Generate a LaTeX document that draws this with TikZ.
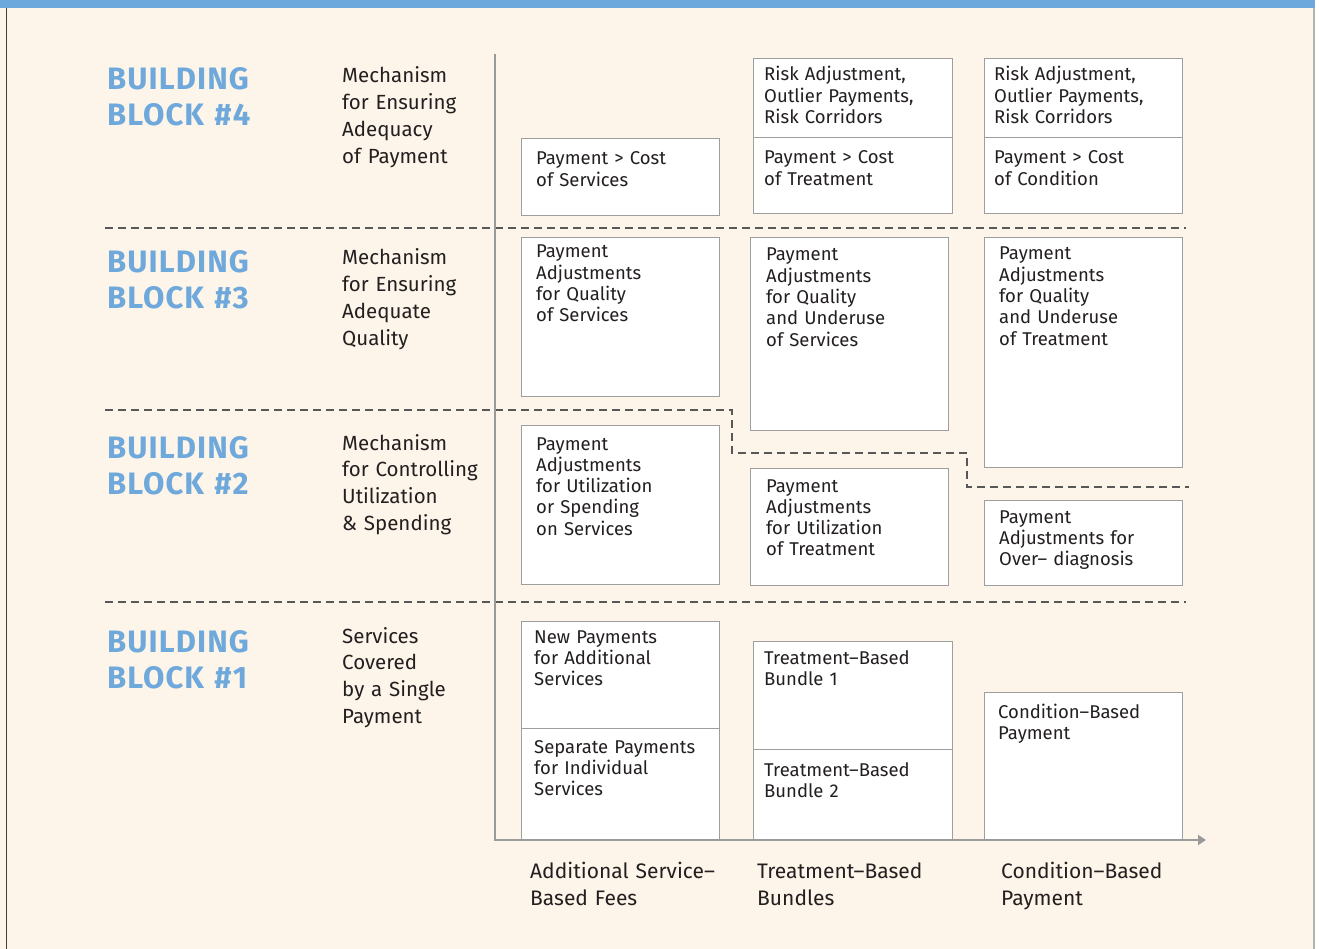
\documentclass[tikz,border=0pt]{standalone}
\usepackage{fontspec}
\setmainfont{Fira Sans}
\newfontfamily\headfont[LetterSpace=3.5]{Fira Sans}
\usetikzlibrary{arrows.meta}
\definecolor{bg}{HTML}{FDF5E9}
\definecolor{barblue}{HTML}{6CA8DC}
\definecolor{headblue}{HTML}{6FA9DC}
\definecolor{dashgray}{HTML}{585858}
\definecolor{axisgray}{HTML}{9A9A9A}
\definecolor{boxgray}{HTML}{9E9E9E}
\definecolor{ink}{HTML}{231F20}
\tikzset{
  cell/.style 2 args={draw=boxgray, fill=white, line width=1.4pt, anchor=north west, inner sep=0pt, minimum width=#1pt, minimum height=#2pt},
  celltext/.style={anchor=base west, inner sep=0pt, text width=185pt, align=left, font=\fontsize{18.5}{21.3}\selectfont, text=ink},
  desc/.style={anchor=base west, inner sep=0pt, text width=160pt, align=left, font=\fontsize{20.5}{26.8}\selectfont, text=ink},
  axlabel/.style={anchor=base west, inner sep=0pt, text width=210pt, align=left, font=\fontsize{21}{27}\selectfont, text=ink},
  head/.style={anchor=base west, inner sep=0pt, text width=220pt, align=left, font=\headfont\fontsize{31}{36}\selectfont\bfseries, text=headblue},
  sepline/.style={draw=dashgray, line width=2.9pt, dash pattern=on 8pt off 5pt},
  axisline/.style={draw=axisgray, line width=2.7pt},
}
\begin{document}
\begin{tikzpicture}[x=1pt,y=-1pt]
\useasboundingbox (0,0) rectangle (1319,949);
% background and frame
\fill[white] (0,0) rectangle (1319,949);
\fill[bg] (0,0) rectangle (1315,949);
\fill[barblue] (0,0) rectangle (1315,8.3);
\draw[draw=black!75, line width=1.6pt] (6.5,8.3) -- (6.5,949);
\draw[draw=black!30, line width=1.3pt] (1314,8.3) -- (1314,949);

% separators
\coordinate (s4a) at (105,228);
\coordinate (s4b) at (1186,228);
\coordinate (s3a) at (105,410);
\coordinate (s3b) at (732,410);
\coordinate (s3c) at (732,453);
\coordinate (s3d) at (967,453);
\coordinate (s3e) at (967,487);
\coordinate (s3f) at (1189,487);
\coordinate (s2a) at (105,602);
\coordinate (s2b) at (1186,602);
\draw[sepline] (s4a) -- (s4b);
\draw[sepline] (s3a) -- (s3b) -- (s3c) -- (s3d) -- (s3e) -- (s3f);
\draw[sepline] (s2a) -- (s2b);

% headings
\node[head] (h4) at (107,90) {BUILDING\\BLOCK \#4};
\node[head] (h3) at (107,273) {BUILDING\\BLOCK \#3};
\node[head] (h2) at (107,458) {BUILDING\\BLOCK \#2};
\node[head] (h1) at (107,652) {BUILDING\\BLOCK \#1};

% descriptions
\node[desc] (d4) at (342,83) {Mechanism\\for Ensuring\\Adequacy\\of Payment};
\node[desc] (d3) at (342,265) {Mechanism\\for Ensuring\\Adequate\\Quality};
\node[desc] (d2) at (342,450) {Mechanism\\for Controlling\\Utilization\\\& Spending};
\node[desc] (d1) at (342,643) {Services\\Covered\\by a Single\\Payment};

% boxes column 1
\node[cell={198}{77}] (a4) at (521,138) {};
\node[cell={198}{159}] (a3) at (521,237) {};
\node[cell={198}{159}] (a2) at (521,425) {};
\node[cell={198}{107}] (a1u) at (521,621) {};
\node[cell={198}{112}] (a1l) at (521,728) {};
% boxes column 2
\node[cell={199}{79}] (b4u) at (753,58) {};
\node[cell={199}{76}] (b4l) at (753,137) {};
\node[cell={198}{193}] (b3) at (750,237) {};
\node[cell={198}{117}] (b2) at (750,468) {};
\node[cell={199}{108}] (b1u) at (753,641) {};
\node[cell={199}{91}] (b1l) at (753,749) {};
% boxes column 3
\node[cell={198}{79}] (c4u) at (984,58) {};
\node[cell={198}{76}] (c4l) at (984,137) {};
\node[cell={198}{230}] (c3) at (984,237) {};
\node[cell={198}{85}] (c2) at (984,500) {};
\node[cell={198}{148}] (c1) at (984,692) {};

% axes
\coordinate (ytop) at (495,54);
\coordinate (orig) at (495,840);
\coordinate (xend) at (1206,840);
\draw[axisline, -{Triangle[length=8pt,width=10pt]}] (ytop) -- (orig) -- (xend);

% box texts column 1
\node[celltext] (ta4) at (536,165) {Payment > Cost\\of Services};
\node[celltext] (ta3) at (536,258) {Payment\\Adjustments\\for Quality\\of Services};
\node[celltext] (ta2) at (536,450) {Payment\\Adjustments\\for Utilization\\or Spending\\on Services};
\node[celltext] (ta1u) at (534,643) {New Payments\\for Additional\\Services};
\node[celltext] (ta1l) at (534,753) {Separate Payments\\for Individual\\Services};
% box texts column 2
\node[celltext] (tb4u) at (764,81) {Risk Adjustment,\\Outlier Payments,\\Risk Corridors};
\node[celltext] (tb4l) at (764,164) {Payment > Cost\\of Treatment};
\node[celltext] (tb3) at (766,261) {Payment\\Adjustments\\for Quality\\and Underuse\\of Services};
\node[celltext] (tb2) at (766,492) {Payment\\Adjustments\\for Utilization\\of Treatment};
\node[celltext] (tb1u) at (764,664) {Treatment–Based\\Bundle 1};
\node[celltext] (tb1l) at (764,776) {Treatment–Based\\Bundle 2};
% box texts column 3
\node[celltext] (tc4u) at (994,81) {Risk Adjustment,\\Outlier Payments,\\Risk Corridors};
\node[celltext] (tc4l) at (994,164) {Payment > Cost\\of Condition};
\node[celltext] (tc3) at (999,260) {Payment\\Adjustments\\for Quality\\and Underuse\\of Treatment};
\node[celltext] (tc2) at (999,523) {Payment\\Adjustments for\\Over– diagnosis};
\node[celltext] (tc1) at (998,718) {Condition–Based\\Payment};

% axis labels
\node[axlabel] (x1) at (530,878) {Additional Service–\\Based Fees};
\node[axlabel] (x2) at (757,878) {Treatment–Based\\Bundles};
\node[axlabel] (x3) at (1001,878) {Condition–Based\\Payment};
\end{tikzpicture}
\end{document}
